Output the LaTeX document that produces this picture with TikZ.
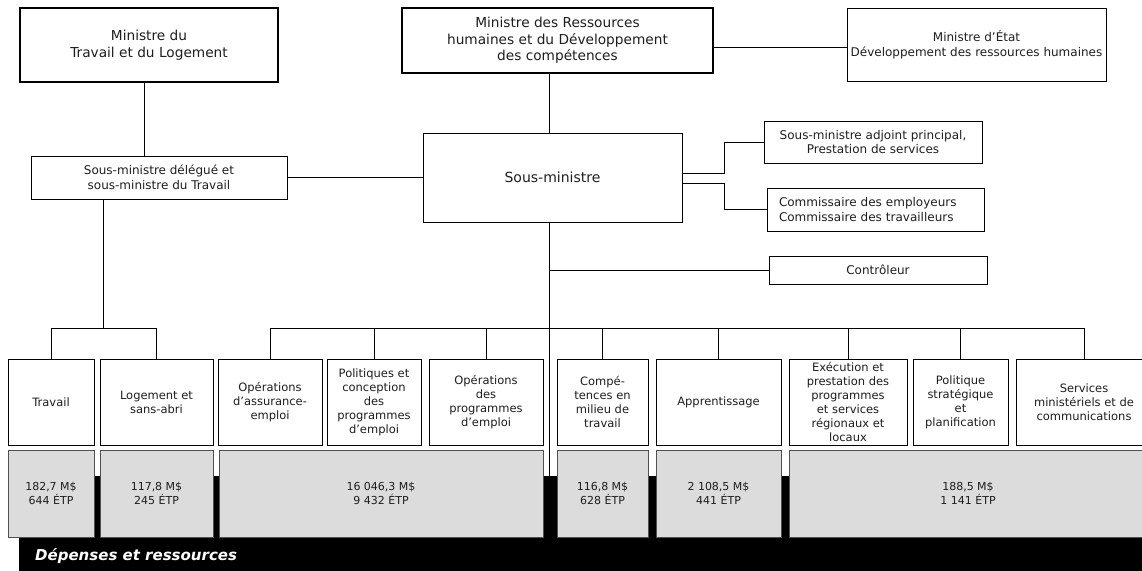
\documentclass[tikz,border=0pt]{standalone}
\usepackage{fontspec}
\setmainfont{DejaVu Sans}
\usepackage{tikz}
\definecolor{boxgray}{RGB}{220,220,220}
\definecolor{edgegray}{RGB}{80,80,80}
\definecolor{inkgray}{RGB}{30,30,30}

\tikzset{
    link/.style={draw=black, line width=1pt},
    headbox/.style={draw, line width=2pt, inner sep=0pt, align=center, text=inkgray,
        font=\fontsize{13.7}{16.7}\selectfont},
    orgbox/.style={draw, line width=1pt, inner sep=0pt, align=center, text=inkgray,
        font=\fontsize{12}{14.6}\selectfont},
    unitbox/.style={orgbox, fill=white, minimum height=86pt,
        font=\fontsize{11.5}{14}\selectfont},
    costbox/.style={draw=edgegray, fill=boxgray, line width=1pt, inner sep=0pt, align=center,
        minimum height=87pt, text=inkgray, font=\fontsize{11}{14}\selectfont}
}

\begin{document}
\begin{tikzpicture}[x=1pt, y=-1pt]
    \useasboundingbox (0,0) rectangle (1142,570);

    % ministres
    \node[headbox, minimum width=258pt, minimum height=74pt] (mintrav) at (149,45) {Ministre du\\Travail et du Logement};
    \node[headbox, minimum width=311pt, minimum height=65pt] (minrh) at (557.5,40.5) {Ministre des Ressources\\humaines et du Développement\\des compétences};
    \node[orgbox, minimum width=259pt, minimum height=73pt] (minetat) at (976.5,44.5) {Ministre d’État\\Développement des ressources humaines};

    % sous-ministres
    \node[orgbox, minimum width=256pt, minimum height=43pt] (smdel) at (159,177.5) {Sous-ministre délégué et\\sous-ministre du Travail};
    \node[orgbox, minimum width=259pt, minimum height=89pt, font=\fontsize{14}{17}\selectfont] (sm) at (552.5,177.5) {Sous-ministre};
    \node[orgbox, minimum width=218pt, minimum height=42pt] (smap) at (873,142) {Sous-ministre adjoint principal,\\Prestation de services};
    \node[orgbox, minimum width=217pt, minimum height=43pt, text width=193pt, align=left] (comm) at (875.5,209.5) {Commissaire des employeurs\\Commissaire des travailleurs};
    \node[orgbox, minimum width=218pt, minimum height=28pt] (ctrl) at (878,270) {Contrôleur};

    % black band
    \node[fill=black, inner sep=0pt, minimum width=1135pt, minimum height=100pt, anchor=north west] (bar) at (19,476) {};
    \node[anchor=west, inner sep=0pt, text=white, font=\fontsize{15}{18}\selectfont\bfseries\itshape] (deplbl) at (35,556) {Dépenses et ressources};

    % secteurs
    \node[unitbox, minimum width=86pt] (trav) at (51,402) {Travail};
    \node[unitbox, minimum width=113pt] (loge) at (156.5,402) {Logement et\\sans-abri};
    \node[unitbox, minimum width=104pt] (opae) at (270,402) {Opérations\\d’assurance-\\emploi};
    \node[unitbox, minimum width=94pt] (pol) at (374,402) {Politiques et\\conception\\des\\programmes\\d’emploi};
    \node[unitbox, minimum width=114pt] (opprog) at (486,402) {Opérations\\des\\programmes\\d’emploi};
    \node[unitbox, minimum width=91pt] (comp) at (602.5,402) {Compé-\\tences en\\milieu de\\travail};
    \node[unitbox, minimum width=125pt] (appr) at (718.5,402) {Apprentissage};
    \node[unitbox, minimum width=118pt] (exec) at (848,402) {Exécution et\\prestation des\\programmes\\et services\\régionaux et\\locaux};
    \node[unitbox, minimum width=95pt] (strat) at (960.5,402) {Politique\\stratégique\\et\\planification};
    \node[unitbox, minimum width=136pt] (serv) at (1084,402) {Services\\ministériels et de\\communications};

    % depenses
    \node[costbox, minimum width=86pt] (ctrav) at (51,493.5) {182,7 M\$\\644 ÉTP};
    \node[costbox, minimum width=113pt] (cloge) at (156.5,493.5) {117,8 M\$\\245 ÉTP};
    \node[costbox, minimum width=324pt] (cemploi) at (381,493.5) {16 046,3 M\$\\9 432 ÉTP};
    \node[costbox, minimum width=91pt] (ccomp) at (602.5,493.5) {116,8 M\$\\628 ÉTP};
    \node[costbox, minimum width=125pt] (cappr) at (718.5,493.5) {2 108,5 M\$\\441 ÉTP};
    \node[costbox, minimum width=358pt] (cserv) at (968,493.5) {188,5 M\$\\1 141 ÉTP};

    % liens
    \coordinate (spine) at (549,0);
    \coordinate (ad) at (144,0);
    \coordinate (bc) at (0,47);
    \coordinate (ef) at (724,173);
    \coordinate (eg) at (724,183);
    \coordinate (lbus) at (103,328);
    \coordinate (rbus) at (0,328);

    \draw[link] (ad |- mintrav.south) -- (ad |- smdel.north);
    \draw[link] (bc -| minrh.east) -- (bc -| minetat.west);
    \draw[link] (spine |- minrh.south) -- (spine |- sm.north);
    \draw[link] (smdel.east) -- (sm.west);
    \draw[link] (ef -| sm.east) -- (ef) |- (smap.west);
    \draw[link] (eg -| sm.east) -- (eg) |- (comm.west);
    \draw[link] (spine |- sm.south) -- (spine |- bar.north);
    \draw[link] (spine |- ctrl.west) -- (ctrl.west);

    \draw[link] (lbus |- smdel.south) -- (lbus);
    \draw[link] (trav.north) -- (trav.north |- lbus) -- (loge.north |- lbus) -- (loge.north);

    \draw[link] (opae.north) |- (rbus -| serv.north) -- (serv.north);
    \foreach \u in {pol,opprog,comp,appr,exec,strat}
        \draw[link] (\u.north) -- (\u.north |- rbus);
\end{tikzpicture}
\end{document}
